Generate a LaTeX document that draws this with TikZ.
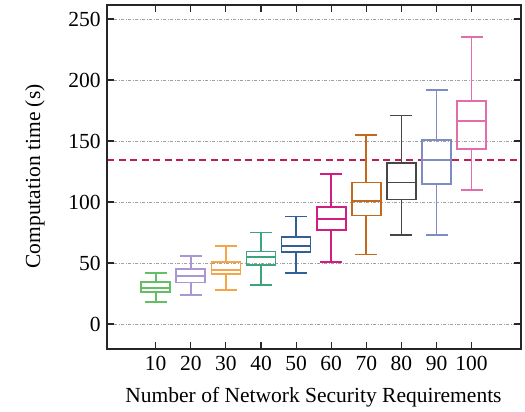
\documentclass[tikz,border=0pt]{standalone}
\usepackage{fontspec}
\setmainfont{Liberation Serif}
\definecolor{cA}{RGB}{100,190,100}
\definecolor{cB}{RGB}{170,150,210}
\definecolor{cC}{RGB}{245,165,70}
\definecolor{cD}{RGB}{60,165,125}
\definecolor{cE}{RGB}{50,95,150}
\definecolor{cF}{RGB}{210,30,130}
\definecolor{cG}{RGB}{195,105,30}
\definecolor{cH}{RGB}{70,70,70}
\definecolor{cI}{RGB}{125,140,195}
\definecolor{cJ}{RGB}{225,110,170}
\definecolor{limitred}{RGB}{190,30,80}
\definecolor{gridgray}{RGB}{160,160,160}
\begin{document}
% x: one unit per pixel (0.5pt), y: data units (seconds)
\begin{tikzpicture}[x=0.5pt,y=0.61pt,
  font=\fontsize{10.75}{13}\selectfont,
  frame/.style={line width=0.85pt,draw=black!85},
  gridline/.style={gridgray,line width=0.45pt,dash pattern=on 1.5pt off 0.75pt on 0.5pt off 0.75pt},
  tickmark/.style={black!85,line width=0.55pt},
  whisk/.style={line width=0.85pt},
  limitline/.style={limitred,line width=0.85pt,dash pattern=on 3.5pt off 2.25pt}]
\useasboundingbox (0,-72.13) rectangle (525,265.57);

% horizontal grid and y ticks
\foreach \v in {0,50,...,250}{
  \draw[gridline] (107,\v) -- (521,\v);
  \draw[tickmark] (107,\v) -- (114,\v);
  \draw[tickmark] (521,\v) -- (514,\v);
  \node[anchor=east,inner sep=0pt] (ylab\v) at (101,\v) {\v};
}

% threshold
\draw[limitline] (107,134.4) -- (521,134.4);

% boxes: x-centre, min, q1, median, q3, max, colour, label
\foreach \cx/\lo/\qa/\me/\qb/\hi/\col/\lab in {
  155.7/18/26.5/29.5/34.5/42/cA/10,
  190.8/24/34/39.3/45/56/cB/20,
  225.9/28/40.7/44/51/64/cC/30,
  261.0/32/48.5/55/59.5/75/cD/40,
  296.1/42/59/64/71.5/88/cE/50,
  331.2/51/77/86/96/123/cF/60,
  366.3/57/89/101/116/155/cG/70,
  401.4/73/102/116/132/171/cH/80,
  436.5/73/115/134.4/151/192/cI/90,
  471.6/110/143.5/166.5/183/235.5/cJ/100}{
  \draw[whisk,\col] (\cx-14.5,\qa) rectangle (\cx+14.5,\qb);
  \draw[whisk,\col] (\cx-14.5,\me) -- (\cx+14.5,\me);
  \draw[whisk,\col] (\cx,\qb) -- (\cx,\hi) (\cx-11,\hi) -- (\cx+11,\hi);
  \draw[whisk,\col] (\cx,\qa) -- (\cx,\lo) (\cx-11,\lo) -- (\cx+11,\lo);
  \draw[tickmark] (\cx,-20.5) -- (\cx,-14.8);
  \draw[tickmark] (\cx,261.5) -- (\cx,255.8);
  \node[inner sep=0pt] (xlab\lab) at (\cx,-32) {\lab};
}

% axis frame
\draw[frame] (107,-20.5) rectangle (521,261.5);

% axis titles
\node[inner sep=0pt] (xtitle) at (313.5,-59.8) {Number of Network Security Requirements};
\node[inner sep=0pt,rotate=90] (ytitle) at (35,121) {Computation time (s)};
\end{tikzpicture}
\end{document}
